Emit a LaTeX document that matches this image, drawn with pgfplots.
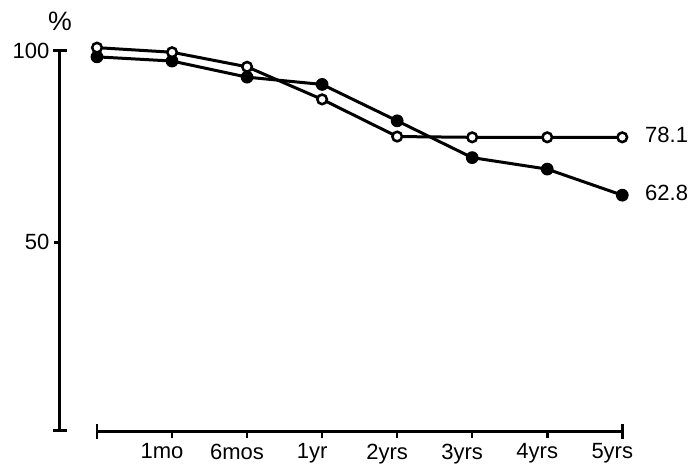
\documentclass[border=0pt]{standalone}
\usepackage{pgfplots}
\pgfplotsset{compat=1.18}
\usepackage{fontspec}
\setmainfont{Liberation Sans}
\begin{document}
\begin{tikzpicture}
\path[use as bounding box] (-45pt,-23.5pt) rectangle (480pt,323.8pt);
\begin{axis}[
  at={(0,0)}, anchor=south west,
  scale only axis,
  x=56.28pt, y=2.874pt,
  xmin=-0.493, xmax=7, ymin=0.57, ymax=100,
  axis x line=bottom, axis y line=left,
  separate axis lines,
  x axis line style={line width=2.25pt, shorten <=27.75pt, -},
  y axis line style={line width=2.25pt, shorten <=1.2pt, -},
  xtick={0,...,7},
  xticklabels={,1mo,6mos,1yr,2yrs,3yrs,4yrs,5yrs},
  ytick={50,100},
  yticklabels={50,100},
  tick align=outside,
  major tick length=4.5pt,
  tick style={line width=1.9pt, black},
  xticklabel style={xshift=-7.5pt, yshift=-1pt},
  tick label style={font=\fontsize{16.5}{19}\selectfont},
  clip=false,
]
\addplot[line width=2.25pt, mark=*, mark size=4.4pt, mark options={line width=0.75pt, fill=black}]
  coordinates {(0,98.4)(1,97.3)(2,93.1)(3,91.2)(4,81.7)(5,72.1)(6,69.1)(7,62.3)};
\addplot[line width=2.25pt, mark=*, mark size=3.6pt, mark options={line width=1.9pt, fill=white}]
  coordinates {(0,100.8)(1,99.6)(2,95.8)(3,87.3)(4,77.6)(5,77.4)(6,77.4)(7,77.4)};
\draw[line width=1.9pt] ([yshift=-5.6pt]axis cs:0,0.57) -- ([yshift=5.6pt]axis cs:0,0.57);
\draw[line width=1.9pt] ([yshift=-5.6pt]axis cs:7,0.57) -- ([yshift=5.6pt]axis cs:7,0.57);
\draw[line width=1.9pt] ([xshift=-4.9pt]axis cs:-0.493,100) -- ([xshift=4.9pt]axis cs:-0.493,100);
\draw[line width=2.25pt] ([xshift=-4.9pt]axis cs:-0.493,1.0) -- ([xshift=4.9pt]axis cs:-0.493,1.0);
\node[font=\fontsize{20}{24}\selectfont, inner sep=0pt] at ([yshift=22.3pt]axis cs:-0.493,100) {\%};
\node[font=\fontsize{16.5}{19}\selectfont, anchor=west, inner sep=0pt, xshift=17pt, yshift=1.5pt] at (axis cs:7,77.4) {78.1};
\node[font=\fontsize{16.5}{19}\selectfont, anchor=west, inner sep=0pt, xshift=17pt, yshift=1.5pt] at (axis cs:7,62.3) {62.8};
\end{axis}
\end{tikzpicture}
\end{document}
